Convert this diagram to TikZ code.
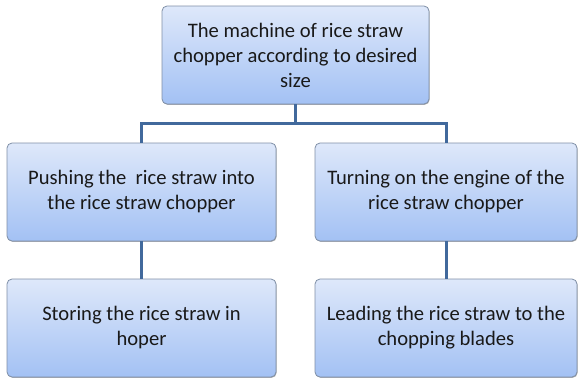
\documentclass[tikz,border=0pt]{standalone}
\usepackage{fontspec}
\setmainfont{Carlito}
\usetikzlibrary{shadows}
\definecolor{boxtop}{HTML}{DEE8FA}
\definecolor{boxbot}{HTML}{A3C1F4}
\definecolor{boxline}{HTML}{7F8FA6}
\definecolor{conn}{HTML}{41699C}
\tikzset{
  x=1pt, y=-1pt,
  stepbox/.style={draw=boxline, line width=0.8pt, rounded corners=5pt,
    top color=boxtop, bottom color=boxbot,
    drop shadow={shadow xshift=0.6pt, shadow yshift=-0.8pt, fill=black!55, opacity=0.6},
    align=center, inner sep=0pt,
    font=\fontsize{20.6}{25}\selectfont, text=black!90},
  conline/.style={draw=conn, line width=3pt}
}
\begin{document}
\begin{tikzpicture}
\useasboundingbox (0,0) rectangle (579,378);
\node[stepbox, minimum width=267pt, minimum height=98pt] (top) at (295.5,55)
  {The machine of rice straw\\chopper according to desired\\size};
\node[stepbox, minimum width=269pt, minimum height=98pt] (ml) at (141.5,192)
  {Pushing the \ rice straw into\\the rice straw chopper};
\node[stepbox, minimum width=262pt, minimum height=98pt] (mr) at (446,192)
  {Turning on the engine of the\\rice straw chopper};
\node[stepbox, minimum width=269pt, minimum height=98pt] (bl) at (141.5,328)
  {Storing the rice straw in\\hoper};
\node[stepbox, minimum width=262pt, minimum height=98pt] (br) at (446,328)
  {Leading the rice straw to the\\chopping blades};
\coordinate (hy) at (0,123);
\draw[conline] (top.south) -- (top.south |- hy);
\draw[conline] (ml.north) -- (ml.north |- hy) -- (mr.north |- hy) -- (mr.north);
\draw[conline] (ml.south) -- (bl.north);
\draw[conline] (mr.south) -- (br.north);
\end{tikzpicture}
\end{document}
